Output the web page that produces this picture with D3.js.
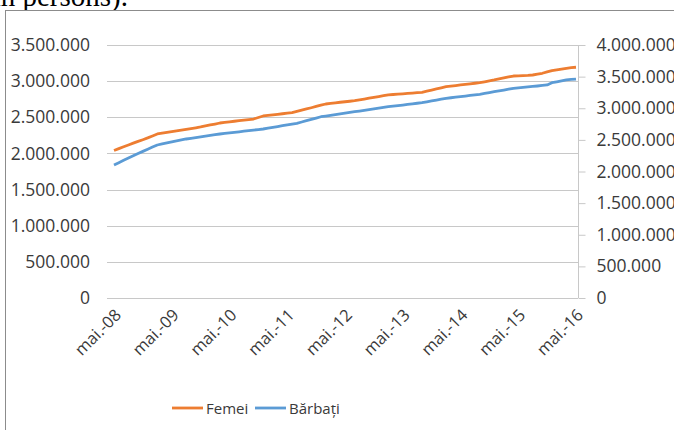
<!DOCTYPE html>
<html>
<head>
<meta charset="utf-8">
<script src="https://cdn.jsdelivr.net/npm/d3@7"></script>
<style>
  html, body { margin: 0; padding: 0; background: #fff; }
  svg { display: block; }
</style>
</head>
<body>
<svg id="chart" width="674" height="430"></svg>
<script>
// ---- Data (thousands of persons, monthly May 2008 – May 2016) ----
const yearLabels = ["mai.-08","mai.-09","mai.-10","mai.-11","mai.-12","mai.-13","mai.-14","mai.-15","mai.-16"];
const seriesNames = ["Femei", "Bărbați"];
// Femei – left axis
const femei = [
  2040,2066,2092,2117,2142,2166,2190,2215,2242,2269,
  2280,2291,2302,2313,2323,2334,2344,2355,2366,
  2380,2394,2407,2421,
  2429,2437,2445,2453,2461,2468,2476,
  2497,2518,
  2526,2534,2541,2549,2557,2564,
  2581,2598,2615,2632,2650,2667,2684,
  2692,2700,2708,2715,2722,2730,
  2741,2752,2764,2775,2786,2798,2809,
  2815,2820,2825,2830,2835,2840,2846,
  2861,2877,2892,2908,2923,
  2931,2939,2947,2955,2963,2971,2979,
  2991,3004,3016,
  3030,3044,3058,3071,
  3072,3077,3080,3085,
  3097,3109,
  3127,3145,
  3156,3167,3178,
  3186,3192
];
// Bărbați – right axis
const barbati = [
  2103,2140,2177,2213,2248,2283,2318,2352,2386,2419,
  2436,2452,2468,2483,2499,2514,
  2525,2537,2548,2559,2570,2582,2593,
  2602,2611,2620,2628,2637,2646,2655,2663,2672,
  2685,2698,2711,2724,2737,2750,2762,
  2783,2804,2825,2845,2866,
  2877,2889,2900,2911,2922,2934,2945,
  2956,2968,2979,2990,3001,3013,3024,
  3033,3042,3051,3061,3070,3079,3088,
  3102,3116,3130,3143,3157,
  3166,3175,3184,3193,3203,3212,3221,
  3234,3248,3261,3275,3288,3302,3315,
  3322,3330,3337,3345,3352,3360,3368,
  3404,
  3418,3433,3447,
  3455,3462
];
const leftTicks = [0,500000,1000000,1500000,2000000,2500000,3000000,3500000];
const rightTicks = [0,500000,1000000,1500000,2000000,2500000,3000000,3500000,4000000];
const colors = ["#ED7D31", "#5B9BD5"];

// ---- Layout ----
const svg = d3.select("#chart");
const plotL = 107, plotR = 578, plotT = 45, plotB = 298;
const idx = d3.range(femei.length);
const x = d3.scalePoint().domain(idx).range([114, 576]);
const yL = d3.scaleLinear().domain([0, 3500000]).range([plotB, plotT]);
const yR = d3.scaleLinear().domain([0, 4000000]).range([plotB, plotT]);
const fmt = v => v === 0 ? "0" : d3.format(",")(v).replace(/,/g, ".");
const font = "Open Sans, sans-serif";
const txtColor = "#3a3a3a";

// caption fragment above the frame
svg.append("text")
  .attr("x", 128).attr("y", 6)
  .attr("text-anchor", "end")
  .attr("font-family", "Liberation Serif, Times New Roman, serif")
  .attr("font-size", 29)
  .attr("fill", "#000")
  .text("(in persons).");

// frame
svg.append("rect")
  .attr("x", 5.5).attr("y", 10.5)
  .attr("width", 700).attr("height", 450)
  .attr("fill", "#fff")
  .attr("stroke", "#8c8c8c").attr("stroke-width", 1);

// gridlines (left axis)
svg.append("g").selectAll("line").data(leftTicks.filter(d => d > 0)).join("line")
  .attr("x1", plotL).attr("x2", plotR)
  .attr("y1", d => Math.round(yL(d)) + 0.5).attr("y2", d => Math.round(yL(d)) + 0.5)
  .attr("stroke", "#c8c8c8").attr("stroke-width", 1);

// left axis labels
const leftAxis = d3.axisLeft(yL).tickValues(leftTicks).tickFormat(fmt).tickSize(0).tickPadding(0);
const gL = svg.append("g").attr("transform", "translate(90,0)").call(leftAxis);
gL.select(".domain").remove();
gL.selectAll("text").attr("font-family", font).attr("font-size", 17.5).attr("fill", txtColor);

// right axis
const rightAxis = d3.axisRight(yR).tickValues(rightTicks).tickFormat(fmt).tickSize(7).tickPadding(11);
const gR = svg.append("g").attr("transform", `translate(${plotR + 0.5},0)`).call(rightAxis);
gR.select(".domain").attr("stroke", "#c8c8c8").attr("d", `M0,${plotT}V${plotB}`);
gR.selectAll(".tick line").attr("stroke", "#c8c8c8");
gR.selectAll("text").attr("font-family", font).attr("font-size", 17.5).attr("fill", txtColor);

// x axis baseline
svg.append("line")
  .attr("x1", plotL).attr("x2", plotR)
  .attr("y1", plotB + 0.5).attr("y2", plotB + 0.5)
  .attr("stroke", "#c8c8c8");

// x labels (every 12 months)
svg.append("g").selectAll("text").data(yearLabels).join("text")
  .attr("transform", (d, i) => `translate(${x(i * 12) + 4},${plotB + 14}) rotate(-45)`)
  .attr("text-anchor", "end")
  .attr("dy", "0.35em")
  .attr("font-family", font).attr("font-size", 16.5)
  .attr("fill", txtColor)
  .text(d => d);

// lines
const lineL = d3.line().x((d, i) => x(i)).y(d => yL(d * 1000));
const lineR = d3.line().x((d, i) => x(i)).y(d => yR(d * 1000));
svg.append("path").datum(barbati).attr("d", lineR)
  .attr("fill", "none").attr("stroke", colors[1]).attr("stroke-width", 2.8).attr("stroke-linejoin", "round");
svg.append("path").datum(femei).attr("d", lineL)
  .attr("fill", "none").attr("stroke", colors[0]).attr("stroke-width", 2.8).attr("stroke-linejoin", "round");

// legend
const legendItems = [{name: seriesNames[0], x: 172, c: colors[0]}, {name: seriesNames[1], x: 255, c: colors[1]}];
const lg = svg.append("g");
legendItems.forEach(it => {
  lg.append("line").attr("x1", it.x).attr("x2", it.x + 31).attr("y1", 408).attr("y2", 408)
    .attr("stroke", it.c).attr("stroke-width", 2.8);
  lg.append("text").attr("x", it.x + 34).attr("y", 414)
    .attr("font-family", font).attr("font-size", 15).attr("fill", txtColor)
    .text(it.name);
});
</script>
</body>
</html>
